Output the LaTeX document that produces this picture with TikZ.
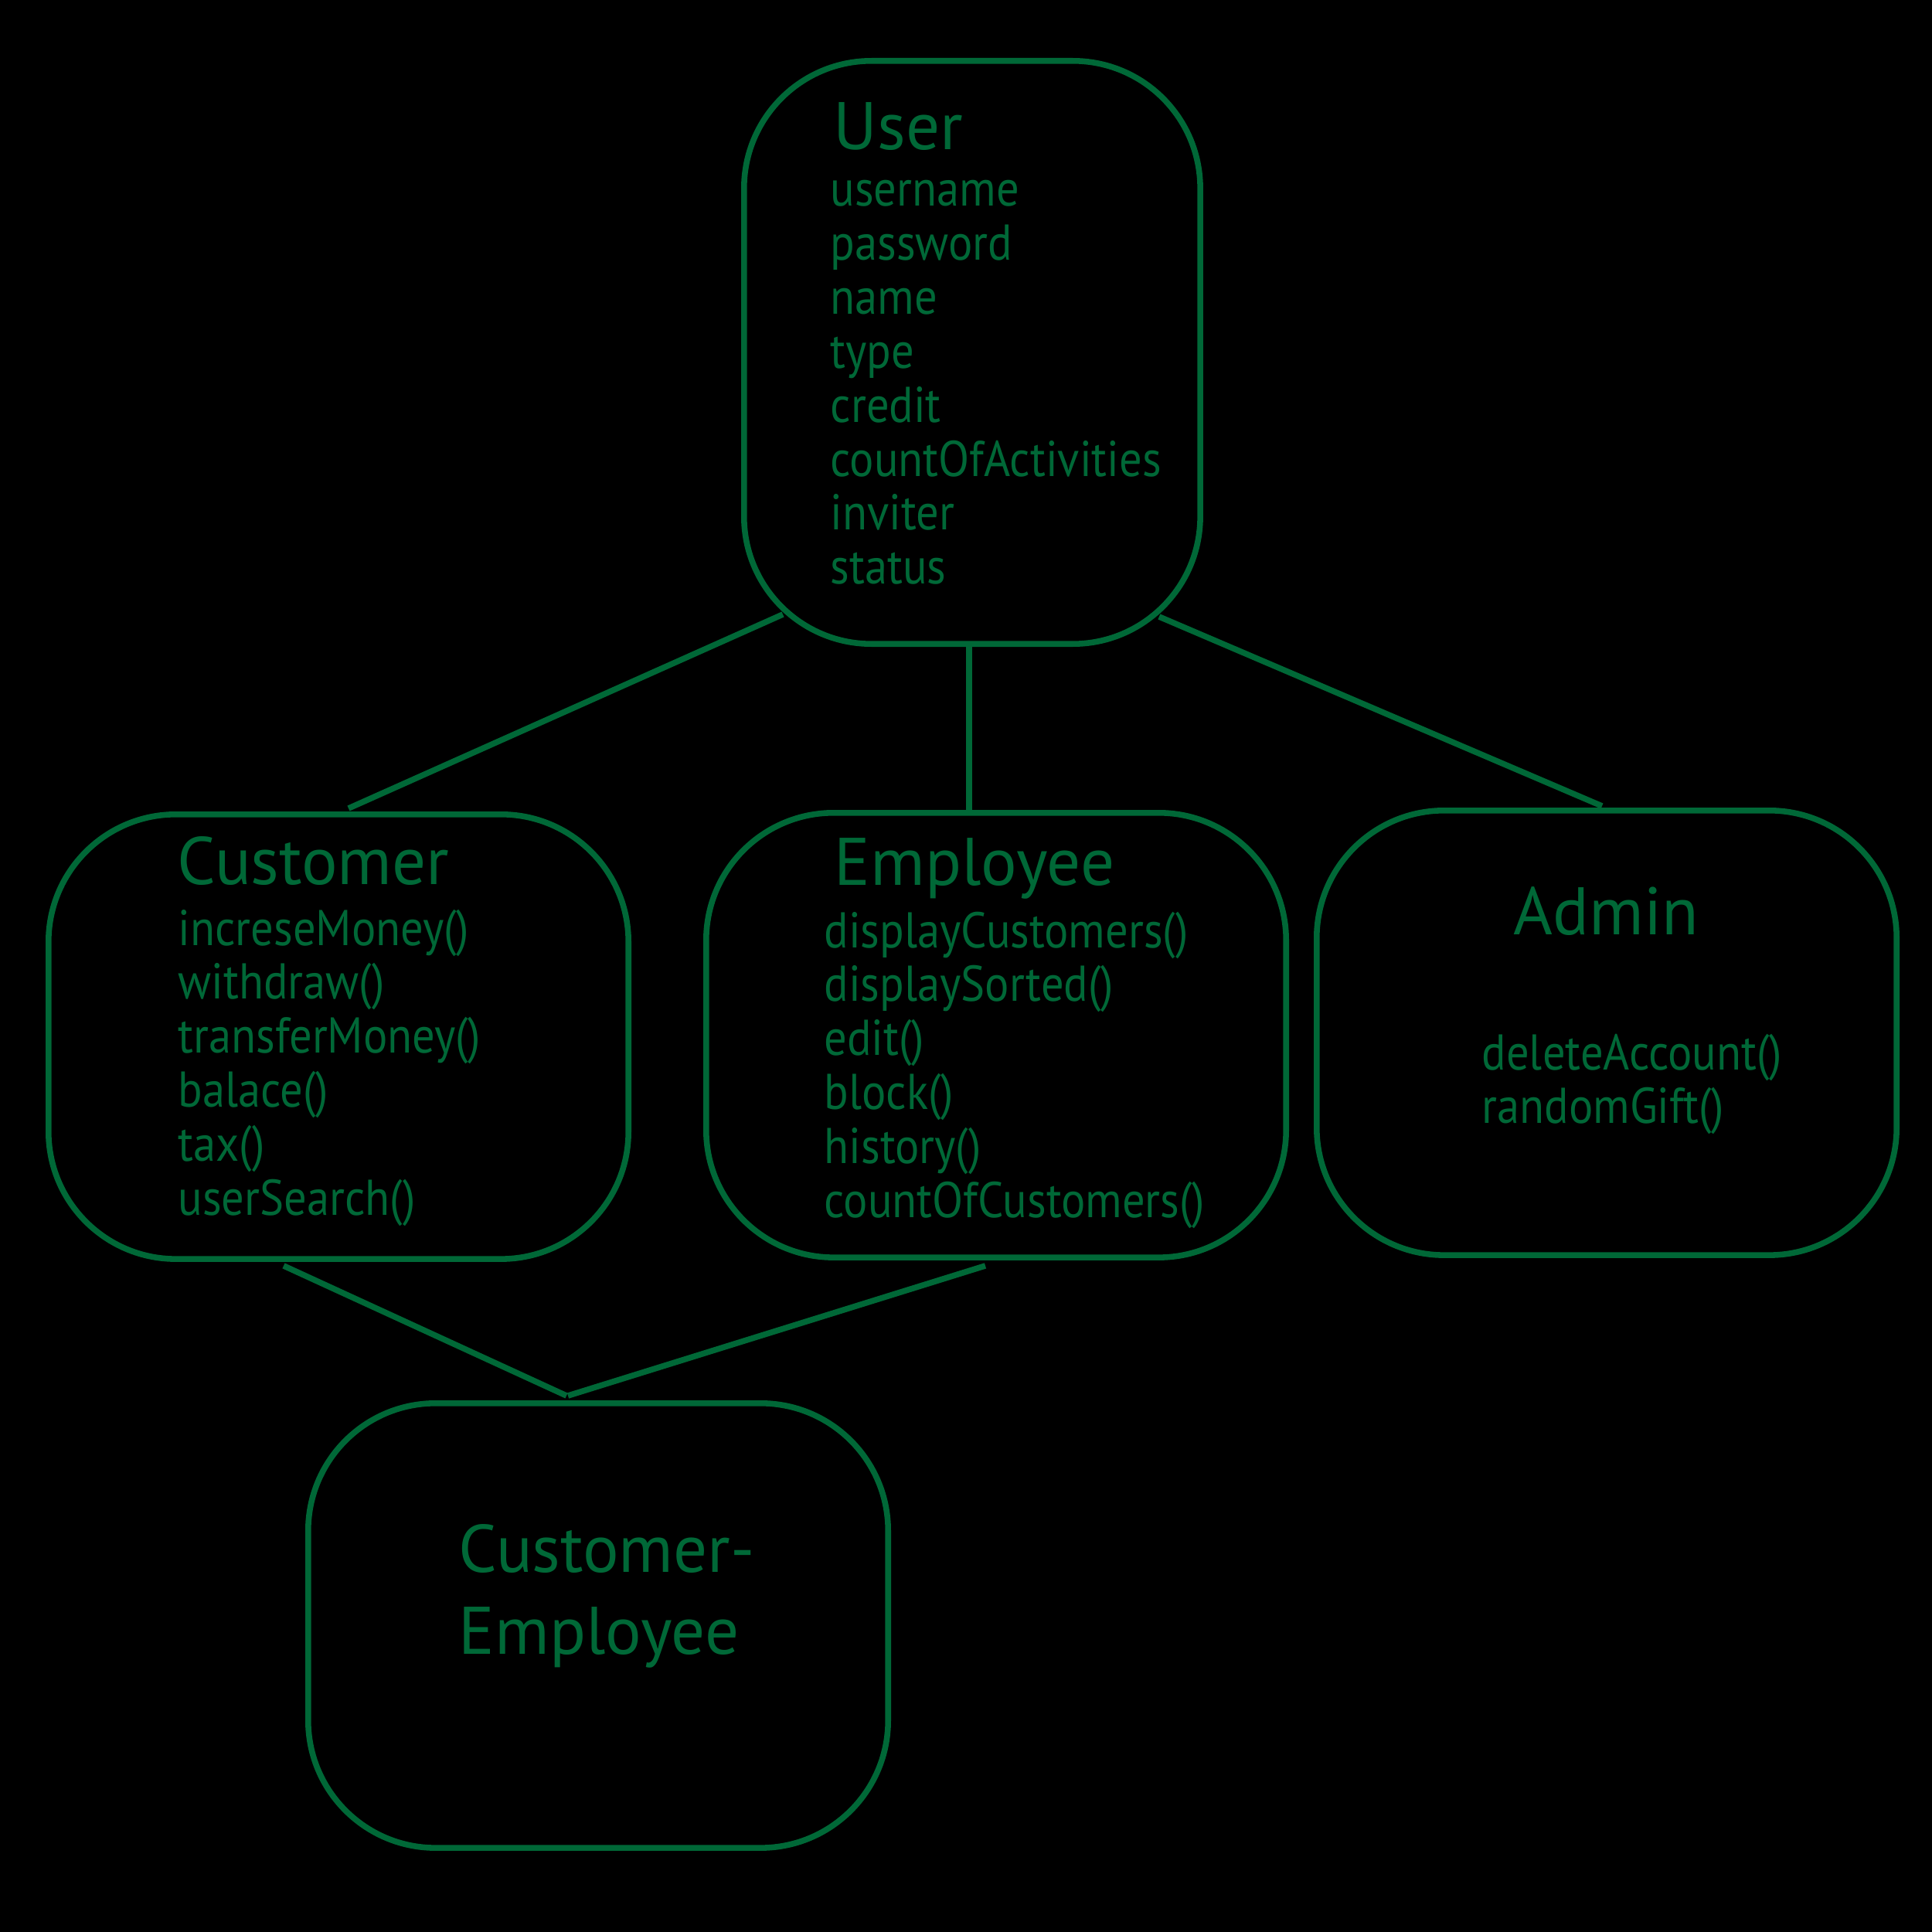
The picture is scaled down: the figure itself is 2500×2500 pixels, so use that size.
\documentclass[tikz,border=0pt]{standalone}
\usepackage{fontspec}
\setmainfont{PT Sans}
\newfontfamily\lstfont[FakeStretch=0.9]{PT Sans}
\usetikzlibrary{calc}
\definecolor{grn}{RGB}{0,104,55}
\newcommand{\stk}[2]{\vtop{\baselineskip=#1\lineskiplimit=-100pt\lineskip=0pt #2}}
\begin{document}
\begin{tikzpicture}[x=0.01cm,y=-0.01cm,
  box/.style={draw=grn, line width=2.15pt, rounded corners=46.9pt, inner sep=0pt, anchor=north west, minimum width=7.5cm, minimum height=5.75cm},
  ttl/.style={anchor=base west, inner sep=0pt, text=grn, font=\fontsize{24.75}{30}\selectfont},
  lst/.style={anchor=base west, inner sep=0pt, text=grn, font=\lstfont\fontsize{18.5}{20}\selectfont},
  conn/.style={draw=grn, line width=2.15pt}]
\fill[black] (0,0) rectangle (2500,2500);
\useasboundingbox (0,0) rectangle (2500,2500);

% boxes
\node[box, minimum width=5.9cm, minimum height=7.54cm] (user) at (959,75) {};
\node[box] (cust) at (59,1050) {};
\node[box] (emp) at (910,1048) {};
\node[box] (adm) at (1700,1045) {};
\node[box] (ce) at (395,1812) {};

% texts
\node[ttl] (usert) at (1078,193) {User};
\node[lst] (userl) at (1074,267) {\stk{19.85pt}{\hbox{username}\hbox{password}\hbox{name}\hbox{type}\hbox{credit}\hbox{countOfActivities}\hbox{inviter}\hbox{status}}};

\node[ttl] (custt) at (229,1144) {Customer};
\node[lst] (custl) at (230,1223) {\stk{19.85pt}{\hbox{increseMoney()}\hbox{withdraw()}\hbox{transferMoney()}\hbox{balace()}\hbox{tax()}\hbox{userSearch()}}};

\node[ttl] (empt) at (1079,1145) {Employee};
\node[lst] (empl) at (1066,1226) {\stk{19.85pt}{\hbox{displayCustomers()}\hbox{displaySorted()}\hbox{edit()}\hbox{block()}\hbox{history()}\hbox{countOfCustomers()}}};

\node[ttl] (admt) at (1958,1209) {Admin};
\node[lst] (adml) at (1917,1384) {\stk{19.63pt}{\hbox{deleteAccount()}\hbox{randomGift()}}};

\node[ttl] (cet) at (593,2034) {\stk{30.2pt}{\hbox{Customer-}\hbox{Employee}}};

% connectors
\draw[conn] ($(user.south west)+(54,-42)$) -- ($(cust.north west)+(392,-4)$);
\draw[conn] ($(user.south)+(-4,0)$) -- ($(user.south |- emp.north)+(-4,0)$);
\draw[conn] ($(user.south east)+(-57,-39)$) -- ($(adm.north west)+(373,-2)$);
\draw[conn] ($(cust.south west)+(308,5)$) -- ($(ce.north west)+(338,-6)$);
\draw[conn] ($(emp.south west)+(365,7)$) -- ($(ce.north west)+(340,-6)$);
\end{tikzpicture}
\end{document}
